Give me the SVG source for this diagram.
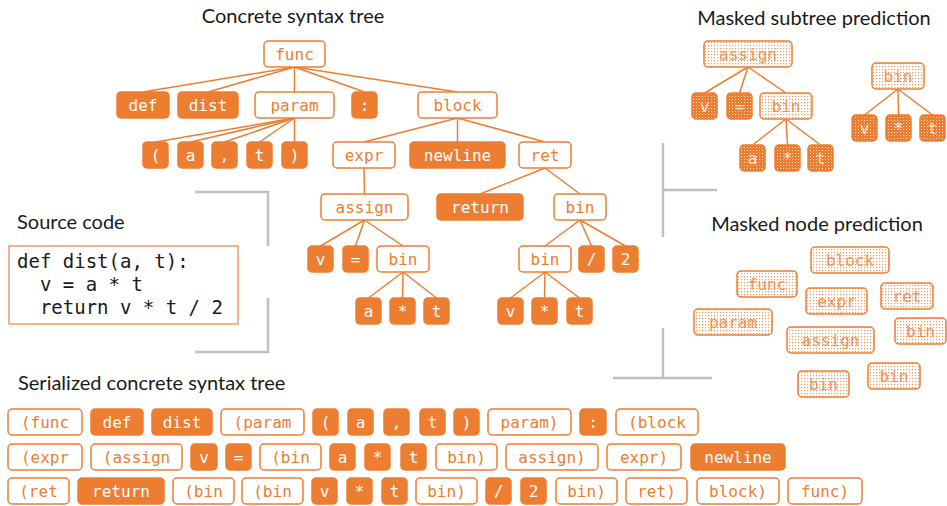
<svg xmlns="http://www.w3.org/2000/svg" width="947" height="506" viewBox="0 0 947 506">
<defs>
<style>
.o{fill:#fff;stroke:#ED7D31;stroke-width:1.5}
.f{fill:#ED7D31;stroke:#ED7D31;stroke-width:1.5}
.mo{fill:url(#dotL);stroke:#ED7D31;stroke-width:1.5}
.mf{fill:url(#dotD);stroke:#ED7D31;stroke-width:1.5}
text.n{font-family:"DejaVu Sans Mono","Liberation Mono",monospace;font-size:16px;text-anchor:middle}
.to{fill:#ED7D31}
.tw{fill:#fff}
.tm{fill:#ED7D31;opacity:0.8}
.tmw{fill:#FBE5D6}
.title{font-family:Lato,"Open Sans",sans-serif;font-size:20px;fill:#1a1a1a}
.code{font-family:"DejaVu Sans Mono","Liberation Mono",monospace;font-size:19px;fill:#1a1a1a;white-space:pre}
.e line{stroke:#ED7D31;stroke-width:1.5}
.br{fill:none;stroke:#BFBFBF;stroke-width:2.5}
</style>
<pattern id="dotL" width="3" height="3" patternUnits="userSpaceOnUse"><rect width="3" height="3" fill="#fff"/><rect width="1.2" height="1.2" fill="#F19A5E"/></pattern>
<pattern id="dotD" width="3" height="3" patternUnits="userSpaceOnUse"><rect width="3" height="3" fill="#ED7D31"/><rect width="1" height="1" fill="#FCE4D3"/></pattern>
</defs>
<rect width="947" height="506" fill="#fff"/>

<!-- titles -->
<text class="title" x="293" y="23" text-anchor="middle">Concrete syntax tree</text>
<text class="title" x="814" y="25" text-anchor="middle">Masked subtree prediction</text>
<text class="title" x="817" y="231" text-anchor="middle">Masked node prediction</text>
<text class="title" x="17" y="229">Source code</text>
<text class="title" x="18" y="390">Serialized concrete syntax tree</text>

<!-- brackets -->
<g id="brackets">
<path class="br" d="M195 192 H268 V246"/>
<path class="br" d="M268 298 V352 H195"/>
<path class="br" d="M663 143 V237 M663 190 H717"/>
<path class="br" d="M663 328 V378 M613 378 H712"/>
</g>

<!-- source code -->
<g id="source">
<rect x="9" y="246" width="229" height="78" fill="#fff" stroke="#F19A5E" stroke-width="1.5"/>
<text class="code" x="17" y="268">def dist(a, t):</text>
<text class="code" x="17" y="291">  v = a * t</text>
<text class="code" x="17" y="314">  return v * t / 2</text>
</g>

<!-- connectors -->
<g id="edges" class="e">
<line x1="294.5" y1="67" x2="143" y2="92"/>
<line x1="294.5" y1="67" x2="208" y2="92"/>
<line x1="294.5" y1="67" x2="294.5" y2="92"/>
<line x1="294.5" y1="67" x2="364.5" y2="92"/>
<line x1="294.5" y1="67" x2="457.5" y2="92"/>
<line x1="294.5" y1="118" x2="155.5" y2="142"/>
<line x1="294.5" y1="118" x2="190.5" y2="142"/>
<line x1="294.5" y1="118" x2="224.5" y2="142"/>
<line x1="294.5" y1="118" x2="259.5" y2="142"/>
<line x1="294.5" y1="118" x2="294.5" y2="142"/>
<line x1="457.5" y1="118" x2="364" y2="142"/>
<line x1="457.5" y1="118" x2="457.5" y2="142"/>
<line x1="457.5" y1="118" x2="545" y2="142"/>
<line x1="364" y1="168" x2="364.5" y2="194"/>
<line x1="364.5" y1="220" x2="320.5" y2="246"/>
<line x1="364.5" y1="220" x2="355.5" y2="246"/>
<line x1="364.5" y1="220" x2="403" y2="246"/>
<line x1="403" y1="272" x2="368.5" y2="298"/>
<line x1="403" y1="272" x2="402.5" y2="298"/>
<line x1="403" y1="272" x2="436.5" y2="298"/>
<line x1="545" y1="168" x2="480" y2="194"/>
<line x1="545" y1="168" x2="580" y2="194"/>
<line x1="580" y1="220" x2="545" y2="246"/>
<line x1="580" y1="220" x2="591.5" y2="246"/>
<line x1="580" y1="220" x2="625.5" y2="246"/>
<line x1="545" y1="272" x2="510.5" y2="298"/>
<line x1="545" y1="272" x2="544.5" y2="298"/>
<line x1="545" y1="272" x2="579.5" y2="298"/>
<!-- masked subtree -->
<line x1="748" y1="67" x2="704.5" y2="93"/>
<line x1="748" y1="67" x2="739.5" y2="93"/>
<line x1="748" y1="67" x2="786" y2="93"/>
<line x1="786" y1="119" x2="752.5" y2="145"/>
<line x1="786" y1="119" x2="787.5" y2="145"/>
<line x1="786" y1="119" x2="820.5" y2="145"/>
<line x1="898" y1="89" x2="864.5" y2="115"/>
<line x1="898" y1="89" x2="898.5" y2="115"/>
<line x1="898" y1="89" x2="932.5" y2="115"/>
</g>

<!-- concrete syntax tree nodes -->
<g id="t-func"><rect class="o" x="264" y="41" width="61" height="26" rx="4"/><text class="n to" x="294.5" y="59.6">func</text></g>
<g id="t-def"><rect class="f" x="117" y="92" width="52" height="26" rx="4"/><text class="n tw" x="143" y="110.6">def</text></g>
<g id="t-dist"><rect class="f" x="178" y="92" width="60" height="26" rx="4"/><text class="n tw" x="208" y="110.6">dist</text></g>
<g id="t-param"><rect class="o" x="255" y="92" width="79" height="26" rx="4"/><text class="n to" x="294.5" y="110.6">param</text></g>
<g id="t-colon"><rect class="f" x="352" y="92" width="25" height="26" rx="4"/><text class="n tw" x="364.5" y="110.6">:</text></g>
<g id="t-block"><rect class="o" x="418" y="92" width="79" height="26" rx="4"/><text class="n to" x="457.5" y="110.6">block</text></g>
<g id="t-lp"><rect class="f" x="143" y="142" width="25" height="26" rx="4"/><text class="n tw" x="155.5" y="160.6">(</text></g>
<g id="t-a1"><rect class="f" x="178" y="142" width="25" height="26" rx="4"/><text class="n tw" x="190.5" y="160.6">a</text></g>
<g id="t-comma"><rect class="f" x="212" y="142" width="25" height="26" rx="4"/><text class="n tw" x="224.5" y="160.6">,</text></g>
<g id="t-t1"><rect class="f" x="247" y="142" width="25" height="26" rx="4"/><text class="n tw" x="259.5" y="160.6">t</text></g>
<g id="t-rp"><rect class="f" x="282" y="142" width="25" height="26" rx="4"/><text class="n tw" x="294.5" y="160.6">)</text></g>
<g id="t-expr"><rect class="o" x="333" y="142" width="62" height="26" rx="4"/><text class="n to" x="364" y="160.6">expr</text></g>
<g id="t-newline"><rect class="f" x="410" y="142" width="95" height="26" rx="4"/><text class="n tw" x="457.5" y="160.6">newline</text></g>
<g id="t-ret"><rect class="o" x="519" y="142" width="52" height="26" rx="4"/><text class="n to" x="545" y="160.6">ret</text></g>
<g id="t-assign"><rect class="o" x="321" y="194" width="87" height="26" rx="4"/><text class="n to" x="364.5" y="212.6">assign</text></g>
<g id="t-return"><rect class="f" x="437" y="194" width="86" height="26" rx="4"/><text class="n tw" x="480" y="212.6">return</text></g>
<g id="t-bin1"><rect class="o" x="554" y="194" width="52" height="26" rx="4"/><text class="n to" x="580" y="212.6">bin</text></g>
<g id="t-v1"><rect class="f" x="308" y="246" width="25" height="26" rx="4"/><text class="n tw" x="320.5" y="264.6">v</text></g>
<g id="t-eq"><rect class="f" x="343" y="246" width="25" height="26" rx="4"/><text class="n tw" x="355.5" y="264.6">=</text></g>
<g id="t-bin2"><rect class="o" x="377" y="246" width="52" height="26" rx="4"/><text class="n to" x="403" y="264.6">bin</text></g>
<g id="t-bin3"><rect class="o" x="519" y="246" width="52" height="26" rx="4"/><text class="n to" x="545" y="264.6">bin</text></g>
<g id="t-div"><rect class="f" x="579" y="246" width="25" height="26" rx="4"/><text class="n tw" x="591.5" y="264.6">/</text></g>
<g id="t-two"><rect class="f" x="613" y="246" width="25" height="26" rx="4"/><text class="n tw" x="625.5" y="264.6">2</text></g>
<g id="t-a2"><rect class="f" x="356" y="298" width="25" height="26" rx="4"/><text class="n tw" x="368.5" y="316.6">a</text></g>
<g id="t-mul1"><rect class="f" x="390" y="298" width="25" height="26" rx="4"/><text class="n tw" x="402.5" y="316.6">*</text></g>
<g id="t-t2"><rect class="f" x="424" y="298" width="25" height="26" rx="4"/><text class="n tw" x="436.5" y="316.6">t</text></g>
<g id="t-v2"><rect class="f" x="498" y="298" width="25" height="26" rx="4"/><text class="n tw" x="510.5" y="316.6">v</text></g>
<g id="t-mul2"><rect class="f" x="532" y="298" width="25" height="26" rx="4"/><text class="n tw" x="544.5" y="316.6">*</text></g>
<g id="t-t3"><rect class="f" x="567" y="298" width="25" height="26" rx="4"/><text class="n tw" x="579.5" y="316.6">t</text></g>

<!-- masked subtree prediction -->
<g id="ms-assign"><rect class="mo" x="704" y="41" width="88" height="26" rx="4"/><text class="n tm" x="748" y="59.6">assign</text></g>
<g id="ms-bin1"><rect class="mo" x="760" y="93" width="52" height="26" rx="4"/><text class="n tm" x="786" y="111.6">bin</text></g>
<g id="ms-v1"><rect class="mf" x="692" y="93" width="25" height="26" rx="4"/><text class="n tmw" x="704.5" y="111.6">v</text></g>
<g id="ms-eq"><rect class="mf" x="727" y="93" width="25" height="26" rx="4"/><text class="n tmw" x="739.5" y="111.6">=</text></g>
<g id="ms-a"><rect class="mf" x="740" y="145" width="25" height="26" rx="4"/><text class="n tmw" x="752.5" y="163.6">a</text></g>
<g id="ms-mul1"><rect class="mf" x="775" y="145" width="25" height="26" rx="4"/><text class="n tmw" x="787.5" y="163.6">*</text></g>
<g id="ms-t1"><rect class="mf" x="808" y="145" width="25" height="26" rx="4"/><text class="n tmw" x="820.5" y="163.6">t</text></g>
<g id="ms-bin2"><rect class="mo" x="872" y="63" width="52" height="26" rx="4"/><text class="n tm" x="898" y="81.6">bin</text></g>
<g id="ms-v2"><rect class="mf" x="852" y="115" width="25" height="26" rx="4"/><text class="n tmw" x="864.5" y="133.6">v</text></g>
<g id="ms-mul2"><rect class="mf" x="886" y="115" width="25" height="26" rx="4"/><text class="n tmw" x="898.5" y="133.6">*</text></g>
<g id="ms-t2"><rect class="mf" x="920" y="115" width="25" height="26" rx="4"/><text class="n tmw" x="932.5" y="133.6">t</text></g>

<!-- masked node prediction -->
<g id="mn-block"><rect class="mo" x="811" y="247" width="78" height="26" rx="4"/><text class="n tm" x="850" y="265.6">block</text></g>
<g id="mn-func"><rect class="mo" x="737" y="271" width="60" height="26" rx="4"/><text class="n tm" x="767" y="289.6">func</text></g>
<g id="mn-expr"><rect class="mo" x="806" y="288" width="61" height="26" rx="4"/><text class="n tm" x="836.5" y="306.6">expr</text></g>
<g id="mn-ret"><rect class="mo" x="881" y="283" width="52" height="26" rx="4"/><text class="n tm" x="907" y="301.6">ret</text></g>
<g id="mn-param"><rect class="mo" x="694" y="309" width="78" height="26" rx="4"/><text class="n tm" x="733" y="327.6">param</text></g>
<g id="mn-bin1"><rect class="mo" x="895" y="318" width="51" height="26" rx="4"/><text class="n tm" x="920.5" y="336.6">bin</text></g>
<g id="mn-assign"><rect class="mo" x="787" y="327" width="87" height="26" rx="4"/><text class="n tm" x="830.5" y="345.6">assign</text></g>
<g id="mn-bin2"><rect class="mo" x="868" y="363" width="52" height="26" rx="4"/><text class="n tm" x="894" y="381.6">bin</text></g>
<g id="mn-bin3"><rect class="mo" x="798" y="371" width="51" height="26" rx="4"/><text class="n tm" x="823.5" y="389.6">bin</text></g>

<!-- serialized row 1 -->
<g id="s1-func"><rect class="o" x="8" y="409" width="74" height="26" rx="4"/><text class="n to" x="45" y="427.6">(func</text></g>
<g id="s1-def"><rect class="f" x="91" y="409" width="52" height="26" rx="4"/><text class="n tw" x="117" y="427.6">def</text></g>
<g id="s1-dist"><rect class="f" x="152" y="409" width="60" height="26" rx="4"/><text class="n tw" x="182" y="427.6">dist</text></g>
<g id="s1-param"><rect class="o" x="221" y="409" width="83" height="26" rx="4"/><text class="n to" x="262.5" y="427.6">(param</text></g>
<g id="s1-lp"><rect class="f" x="313" y="409" width="25" height="26" rx="4"/><text class="n tw" x="325.5" y="427.6">(</text></g>
<g id="s1-a"><rect class="f" x="348" y="409" width="25" height="26" rx="4"/><text class="n tw" x="360.5" y="427.6">a</text></g>
<g id="s1-comma"><rect class="f" x="384" y="409" width="25" height="26" rx="4"/><text class="n tw" x="396.5" y="427.6">,</text></g>
<g id="s1-t"><rect class="f" x="420" y="409" width="25" height="26" rx="4"/><text class="n tw" x="432.5" y="427.6">t</text></g>
<g id="s1-rp"><rect class="f" x="454" y="409" width="25" height="26" rx="4"/><text class="n tw" x="466.5" y="427.6">)</text></g>
<g id="s1-param-c"><rect class="o" x="488" y="409" width="83" height="26" rx="4"/><text class="n to" x="529.5" y="427.6">param)</text></g>
<g id="s1-colon"><rect class="f" x="580" y="409" width="26" height="26" rx="4"/><text class="n tw" x="593" y="427.6">:</text></g>
<g id="s1-block"><rect class="o" x="616" y="409" width="82" height="26" rx="4"/><text class="n to" x="657" y="427.6">(block</text></g>

<!-- serialized row 2 -->
<g id="s2-expr"><rect class="o" x="8" y="444" width="74" height="26" rx="4"/><text class="n to" x="45" y="462.6">(expr</text></g>
<g id="s2-assign"><rect class="o" x="91" y="444" width="91" height="26" rx="4"/><text class="n to" x="136.5" y="462.6">(assign</text></g>
<g id="s2-v"><rect class="f" x="191" y="444" width="26" height="26" rx="4"/><text class="n tw" x="204" y="462.6">v</text></g>
<g id="s2-eq"><rect class="f" x="226" y="444" width="25" height="26" rx="4"/><text class="n tw" x="238.5" y="462.6">=</text></g>
<g id="s2-bin"><rect class="o" x="260" y="444" width="61" height="26" rx="4"/><text class="n to" x="290.5" y="462.6">(bin</text></g>
<g id="s2-a"><rect class="f" x="330" y="444" width="25" height="26" rx="4"/><text class="n tw" x="342.5" y="462.6">a</text></g>
<g id="s2-mul"><rect class="f" x="365" y="444" width="25" height="26" rx="4"/><text class="n tw" x="377.5" y="462.6">*</text></g>
<g id="s2-t"><rect class="f" x="401" y="444" width="25" height="26" rx="4"/><text class="n tw" x="413.5" y="462.6">t</text></g>
<g id="s2-bin-c"><rect class="o" x="436" y="444" width="61" height="26" rx="4"/><text class="n to" x="466.5" y="462.6">bin)</text></g>
<g id="s2-assign-c"><rect class="o" x="506" y="444" width="92" height="26" rx="4"/><text class="n to" x="552" y="462.6">assign)</text></g>
<g id="s2-expr-c"><rect class="o" x="607" y="444" width="74" height="26" rx="4"/><text class="n to" x="644" y="462.6">expr)</text></g>
<g id="s2-newline"><rect class="f" x="691" y="444" width="94" height="26" rx="4"/><text class="n tw" x="738" y="462.6">newline</text></g>

<!-- serialized row 3 -->
<g id="s3-ret"><rect class="o" x="8" y="478" width="61" height="26" rx="4"/><text class="n to" x="38.5" y="496.6">(ret</text></g>
<g id="s3-return"><rect class="f" x="78" y="478" width="86" height="26" rx="4"/><text class="n tw" x="121" y="496.6">return</text></g>
<g id="s3-bin1"><rect class="o" x="173" y="478" width="61" height="26" rx="4"/><text class="n to" x="203.5" y="496.6">(bin</text></g>
<g id="s3-bin2"><rect class="o" x="242" y="478" width="61" height="26" rx="4"/><text class="n to" x="272.5" y="496.6">(bin</text></g>
<g id="s3-v"><rect class="f" x="312" y="478" width="25" height="26" rx="4"/><text class="n tw" x="324.5" y="496.6">v</text></g>
<g id="s3-mul"><rect class="f" x="347" y="478" width="25" height="26" rx="4"/><text class="n tw" x="359.5" y="496.6">*</text></g>
<g id="s3-t"><rect class="f" x="382" y="478" width="25" height="26" rx="4"/><text class="n tw" x="394.5" y="496.6">t</text></g>
<g id="s3-bin2-c"><rect class="o" x="416" y="478" width="61" height="26" rx="4"/><text class="n to" x="446.5" y="496.6">bin)</text></g>
<g id="s3-div"><rect class="f" x="486" y="478" width="25" height="26" rx="4"/><text class="n tw" x="498.5" y="496.6">/</text></g>
<g id="s3-two"><rect class="f" x="521" y="478" width="25" height="26" rx="4"/><text class="n tw" x="533.5" y="496.6">2</text></g>
<g id="s3-bin1-c"><rect class="o" x="556" y="478" width="61" height="26" rx="4"/><text class="n to" x="586.5" y="496.6">bin)</text></g>
<g id="s3-ret-c"><rect class="o" x="626" y="478" width="61" height="26" rx="4"/><text class="n to" x="656.5" y="496.6">ret)</text></g>
<g id="s3-block-c"><rect class="o" x="697" y="478" width="82" height="26" rx="4"/><text class="n to" x="738" y="496.6">block)</text></g>
<g id="s3-func-c"><rect class="o" x="788" y="478" width="74" height="26" rx="4"/><text class="n to" x="825" y="496.6">func)</text></g>
</svg>
